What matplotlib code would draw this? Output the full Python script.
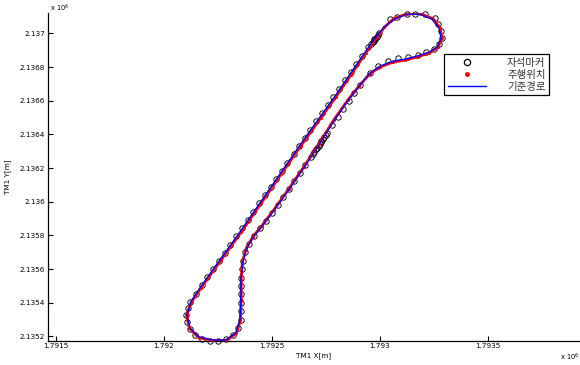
import matplotlib
matplotlib.use("Agg")
import matplotlib.pyplot as plt
from matplotlib.lines import Line2D

# ---------------- data (metres, TM coordinates) ----------------
ref_x = [1792356.5, 1792356.5, 1792365.7, 1792384.3, 1792416.7, 1792458.3, 1792513.9,
         1792583.3, 1792652.8, 1792722.2, 1792791.7, 1792856.5, 1792907.4, 1792953.7,
         1793000.0, 1793060.2, 1793115.7, 1793171.3, 1793226.9, 1793263.9, 1793282.4,
         1793273.1, 1793240.7, 1793185.2, 1793125.0, 1793064.8, 1793018.5, 1792976.9,
         1792930.6, 1792861.1, 1792791.7, 1792722.2, 1792629.6, 1792537.0, 1792444.4,
         1792351.9, 1792259.3, 1792166.7, 1792125.0, 1792106.5, 1792120.4, 1792162.0,
         1792222.2, 1792287.0, 1792333.3, 1792351.9, 1792356.5]
ref_y = [2135416.8, 2135535.4, 2135642.2, 2135725.3, 2135796.5, 2135861.8, 2135956.7,
         2136081.3, 2136211.8, 2136348.3, 2136490.7, 2136609.3, 2136692.4, 2136763.6,
         2136805.1, 2136834.8, 2136846.6, 2136864.4, 2136888.2, 2136917.8, 2136971.2,
         2137030.6, 2137084.0, 2137113.6, 2137113.6, 2137084.0, 2137036.5, 2136971.2,
         2136888.2, 2136757.6, 2136627.1, 2136502.5, 2136336.4, 2136164.3, 2135992.3,
         2135820.2, 2135654.1, 2135488.0, 2135404.9, 2135327.8, 2135250.7, 2135197.3,
         2135179.5, 2135179.5, 2135221.0, 2135298.1, 2135416.8]

drive_x = [1792358.0, 1792357.5, 1792363.0, 1792381.0, 1792412.5, 1792454.0, 1792509.5,
           1792579.0, 1792648.5, 1792718.0, 1792787.5, 1792852.5, 1792904.0, 1792951.5,
           1792999.0, 1793059.0, 1793114.0, 1793170.0, 1793228.5, 1793267.5, 1793286.5,
           1793277.5, 1793243.5, 1793186.5, 1793124.0, 1793063.0, 1793020.5, 1792981.5,
           1792935.5, 1792866.0, 1792796.5, 1792727.0, 1792634.5, 1792541.5, 1792449.0,
           1792356.5, 1792263.5, 1792170.5, 1792127.0, 1792105.0, 1792118.5, 1792160.5,
           1792222.0, 1792288.5, 1792336.0, 1792354.5, 1792358.0]
drive_y = [2135416.0, 2135535.0, 2135641.0, 2135723.0, 2135793.0, 2135858.5, 2135953.0,
           2136078.0, 2136209.0, 2136345.5, 2136488.0, 2136606.0, 2136688.5, 2136758.5,
           2136799.5, 2136829.0, 2136841.0, 2136859.0, 2136884.0, 2136916.5, 2136971.5,
           2137032.5, 2137087.5, 2137117.0, 2137116.5, 2137086.0, 2137037.0, 2136970.0,
           2136886.0, 2136755.0, 2136624.5, 2136500.0, 2136334.0, 2136162.0, 2135990.0,
           2135818.0, 2135652.0, 2135486.0, 2135403.0, 2135327.0, 2135248.5, 2135194.0,
           2135176.5, 2135177.0, 2135219.5, 2135297.0, 2135416.0]

marker_x = [
    # left strand
    1792122, 1792149, 1792176, 1792201, 1792229, 1792254, 1792282, 1792307, 1792335,
    1792360, 1792388, 1792413, 1792441, 1792466, 1792494, 1792519, 1792547, 1792572,
    1792600, 1792625, 1792653, 1792678, 1792706, 1792731, 1792759, 1792784, 1792812,
    1792837, 1792865, 1792890, 1792918, 1792943, 1792970,
    1792960, 1792966, 1792972, 1792978, 1792984, 1792990, 1792996,
    # top loop
    1793046, 1793079, 1793125, 1793162, 1793208, 1793255, 1793269, 1793282, 1793287,
    1793273, 1793250, 1793213, 1793176, 1793130, 1793083, 1793037, 1792991, 1792954,
    # right strand
    1792907, 1792882, 1792856, 1792831, 1792806, 1792780, 1792755, 1792729, 1792704,
    1792679, 1792653, 1792628, 1792602, 1792577, 1792552, 1792526, 1792500, 1792472,
    1792446, 1792415, 1792395, 1792377, 1792365, 1792360, 1792357, 1792358, 1792357,
    1792358, 1792357, 1792356,
    1792750, 1792742, 1792736, 1792729, 1792723, 1792716, 1792710, 1792697, 1792691,
    # bottom loop
    1792343, 1792319, 1792287, 1792250, 1792213, 1792176, 1792144, 1792120, 1792106,
    1792102, 1792111]
marker_y = [
    2135405, 2135455, 2135503, 2135551, 2135600, 2135648, 2135697, 2135746, 2135795,
    2135843, 2135892, 2135941, 2135990, 2136038, 2136087, 2136136, 2136185, 2136233,
    2136282, 2136331, 2136380, 2136428, 2136477, 2136526, 2136575, 2136623, 2136672,
    2136721, 2136770, 2136818, 2136867, 2136916, 2136965,
    2136935, 2136946, 2136957, 2136968, 2136979, 2136990, 2137000,
    2137084, 2137096, 2137114, 2137117, 2137114, 2137090, 2137054, 2137013, 2136971,
    2136936, 2136906, 2136888, 2136870, 2136859, 2136853, 2136835, 2136805, 2136764,
    2136692, 2136645, 2136597, 2136550, 2136502, 2136455, 2136407, 2136360, 2136312,
    2136265, 2136217, 2136170, 2136122, 2136075, 2136027, 2135980, 2135932, 2135888,
    2135845, 2135796, 2135750, 2135700, 2135650, 2135600, 2135550, 2135500, 2135450,
    2135400, 2135350, 2135300,
    2136397, 2136383, 2136371, 2136357, 2136345, 2136333, 2136321, 2136298, 2136285,
    2135251, 2135209, 2135185, 2135174, 2135174, 2135186, 2135209, 2135245, 2135286,
    2135328, 2135369]

xticks = [1791500, 1792000, 1792500, 1793000, 1793500]
xtick_labels = ["1.7915", "1.792", "1.7925", "1.793", "1.7935"]
yticks = [2135200, 2135400, 2135600, 2135800, 2136000, 2136200, 2136400, 2136600,
          2136800, 2137000]
ytick_labels = ["2.1352", "2.1354", "2.1356", "2.1358", "2.136", "2.1362", "2.1364",
                "2.1366", "2.1368", "2.137"]
legend_labels = ["자석마커", "주행위치", "기준경로"]

# ---------------- figure ----------------
plt.rcParams['font.family'] = ['DejaVu Sans']
fig = plt.figure(figsize=(5.8, 3.65), dpi=100)
ax = fig.add_axes([47.7 / 580, (365 - 340.7) / 365, 1 - 47.7 / 580, (340.7 - 13.3) / 365])

ax.plot(marker_x, marker_y, linestyle='none', marker='o', markersize=3.9,
        markerfacecolor='none', markeredgecolor='black', markeredgewidth=0.65,
        clip_on=False, zorder=2)
ax.plot(drive_x, drive_y, color='#ff0000', linewidth=2.0, marker='.', markersize=2.5,
        solid_capstyle='round', zorder=3)
ax.plot(ref_x, ref_y, color='#0000ff', linewidth=1.0, zorder=4)

ax.set_xlim(1791463, 1793925)
ax.set_ylim(2135175, 2137119)
ax.set_xticks(xticks)
ax.set_xticklabels(xtick_labels)
ax.set_yticks(yticks)
ax.set_yticklabels(ytick_labels)
ax.tick_params(direction='in', length=3.5, width=0.8, labelsize=5.2, pad=2)
for s in ['top', 'right']:
    ax.spines[s].set_visible(False)
for s in ['left', 'bottom']:
    ax.spines[s].set_linewidth(0.9)

ax.set_xlabel("TM1 X[m]", fontsize=5.2, labelpad=2)
ax.set_ylabel("TM1 Y[m]", fontsize=5.2, labelpad=6)

fig.text(50 / 580, 1 - 8 / 365, r"x 10$^{6}$", fontsize=4.8, va='center', ha='left')
fig.text(579 / 580, 1 - 357 / 365, r"x 10$^{6}$", fontsize=4.8, va='center', ha='right')

handles = [
    Line2D([], [], linestyle='none', marker='o', markersize=4.5, markerfacecolor='none',
           markeredgecolor='black', markeredgewidth=0.9),
    Line2D([], [], linestyle='none', marker='.', markersize=5, color='#ff0000'),
    Line2D([], [], color='#0000ff', linewidth=1.0),
]
leg = fig.legend(handles, legend_labels, loc='upper left',
                 bbox_to_anchor=(444 / 580, 1 - 54 / 365), bbox_transform=fig.transFigure,
                 prop={'family': ['Noto Sans CJK KR', 'DejaVu Sans'], 'size': 7.5},
                 fancybox=False, framealpha=1, edgecolor='black', handlelength=3.7,
                 handletextpad=2.0, borderpad=0.35, labelspacing=0.2, borderaxespad=0)
leg.get_frame().set_linewidth(0.9)
for t in leg.get_texts():
    t.set_color('#333333')

fig.savefig("out.png", dpi=100)
